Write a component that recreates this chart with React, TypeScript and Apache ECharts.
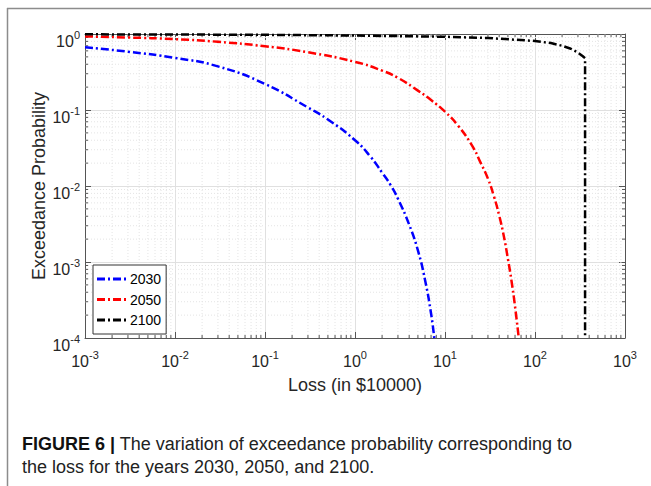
import React, { useEffect, useRef } from "react";
import * as echarts from "echarts";

const seriesNames = ["2030", "2050", "2100"];
const seriesColors = ["#0000ff", "#ff0000", "#000000"];

const loss2030 = [0.001, 0.003, 0.01, 0.03, 0.1, 0.3, 0.5, 1, 1.5, 2, 2.5, 3, 4, 5, 6, 7, 7.6];
const prob2030 = [0.67, 0.585, 0.485, 0.375, 0.22, 0.108, 0.075, 0.04, 0.024, 0.015, 0.0102, 0.0068, 0.0031, 0.00142, 0.00058, 0.00021, 0.0001];

const loss2050 = [0.001, 0.003, 0.01, 0.03, 0.1, 0.3, 1, 2, 3, 5, 7, 10, 14, 20, 25, 30, 35, 40, 45, 50, 55, 60, 66];
const prob2050 = [0.93, 0.9, 0.855, 0.79, 0.69, 0.575, 0.43, 0.33, 0.265, 0.18, 0.135, 0.095, 0.062, 0.034, 0.02, 0.0125, 0.0073, 0.0041, 0.0022, 0.0011, 0.00055, 0.00026, 0.0001];

const loss2100 = [0.001, 0.01, 0.1, 1, 10, 30, 100, 150, 200, 250, 300, 340, 360, 360];
const prob2100 = [0.99, 0.985, 0.975, 0.955, 0.92, 0.885, 0.81, 0.76, 0.7, 0.64, 0.57, 0.51, 0.48, 0.0001];

const xMin = 0.001;
const xMax = 1000;
const yMin = 0.0001;
const yMax = 1;

const FONT = "'Liberation Sans', Arial, sans-serif";

function minorValues(lo: number, hi: number): number[] {
  const out: number[] = [];
  for (let e = Math.round(Math.log10(lo)); e < Math.round(Math.log10(hi)); e++) {
    for (let m = 2; m <= 9; m++) out.push(m * Math.pow(10, e));
  }
  return out;
}

const superLabel = (v: number) => {
  const e = Math.round(Math.log10(v));
  return "{b|10}{s|" + e + "}";
};

const richSup = {
  b: { fontSize: 16, fontFamily: FONT, color: "#262626", verticalAlign: "bottom", lineHeight: 20 },
  s: { fontSize: 11, fontFamily: FONT, color: "#262626", verticalAlign: "top", lineHeight: 20 },
};

const dashDotIcon = "path://M0 0h8v3h-8z M11 0h2v3h-2z M16 0h8v3h-8z M27 0h2v3h-2z";

export default function App() {
  const ref = useRef<HTMLDivElement>(null);
  useEffect(() => {
    document.body.style.margin = "0";
    if (!ref.current) return;
    const chart = echarts.init(ref.current, undefined, { renderer: "svg" });
    const pairs = (xs: number[], ys: number[]) => xs.map((x, i) => [x, ys[i]]);
    const xMinor = minorValues(xMin, xMax);
    const yMinor = minorValues(yMin, yMax);
    const gridColor = "#e0e0e0";
    const minorColor = "#e4e4e4";
    const axisColor = "#555555";

    const lineSeries = [
      pairs(loss2030, prob2030),
      pairs(loss2050, prob2050),
      pairs(loss2100, prob2100),
    ].map((d, i) => ({
      name: seriesNames[i],
      type: "line",
      data: d,
      showSymbol: false,
      symbol: "none",
      smooth: i === 2 ? false : 0.5,
      z: 5,
      color: seriesColors[i],
      lineStyle: { color: seriesColors[i], width: 2.5, type: [8, 3, 2, 3], cap: "butt", join: "round" },
      xAxisIndex: 0,
      yAxisIndex: 0,
    }));

    const baseAxis = {
      type: "log",
      logBase: 10,
      axisLine: { show: true, onZero: false, lineStyle: { color: axisColor, width: 1 } },
      axisTick: { show: true, inside: true, length: 6, lineStyle: { color: axisColor } },
    };

    const option: any = {
      animation: false,
      backgroundColor: "#ffffff",
      grid: { left: 85, top: 34, width: 540, height: 304, containLabel: false },
      xAxis: [
        {
          ...baseAxis,
          min: xMin,
          max: xMax,
          position: "bottom",
          axisLabel: { formatter: superLabel, rich: richSup, fontSize: 16, fontFamily: FONT, margin: 11 },
          splitLine: { show: true, lineStyle: { color: gridColor, width: 1 } },
          name: "Loss (in $10000)",
          nameLocation: "middle",
          nameGap: 38,
          nameMoveOverlap: false,
          nameTextStyle: { fontFamily: FONT, fontSize: 18, color: "#262626" },
        },
        {
          ...baseAxis,
          min: xMin,
          max: xMax,
          position: "top",
          axisLabel: { show: false },
          splitLine: { show: false },
        },
      ],
      yAxis: [
        {
          ...baseAxis,
          min: yMin,
          max: yMax,
          position: "left",
          axisLabel: { formatter: superLabel, rich: richSup, fontSize: 16, fontFamily: FONT, margin: 5, padding: [10, 0, 0, 0] },
          splitLine: { show: true, lineStyle: { color: gridColor, width: 1 } },
          name: "Exceedance Probability",
          nameLocation: "middle",
          nameGap: 37,
          nameMoveOverlap: false,
          nameTextStyle: { fontFamily: FONT, fontSize: 18, color: "#262626" },
        },
        {
          ...baseAxis,
          min: yMin,
          max: yMax,
          position: "right",
          axisLabel: { show: false },
          splitLine: { show: false },
        },
      ],
      legend: {
        data: seriesNames.map((n) => ({ name: n, icon: dashDotIcon })),
        orient: "vertical",
        left: 93,
        top: 265,
        itemWidth: 29,
        itemHeight: 14,
        itemGap: 6.5,
        padding: [7, 5, 7, 4],
        backgroundColor: "#ffffff",
        borderColor: "#333333",
        borderWidth: 1,
        borderRadius: 0,
        textStyle: { fontFamily: FONT, fontSize: 14, color: "#000000", padding: [0, 0, 0, -1] },
      },
      graphic: [
        { type: "line", shape: { x1: 7.5, y1: 8, x2: 7.5, y2: 486 }, style: { stroke: "#8c8c8c", lineWidth: 1.5 } },
        { type: "line", shape: { x1: 7, y1: 8.5, x2: 651, y2: 8.5 }, style: { stroke: "#8c8c8c", lineWidth: 1.5 } },
        {
          type: "text",
          left: 22,
          top: 432,
          style: {
            text: "{b|FIGURE 6 |} The variation of exceedance probability corresponding to\nthe loss for the years 2030, 2050, and 2100.",
            font: "18px " + FONT,
            fill: "#222222",
            lineHeight: 23,
            rich: {
              b: { fontWeight: "bold", fontSize: 18, fontFamily: FONT, fill: "#111111", lineHeight: 23 },
            },
          },
        },
      ],
      series: [
        {
          type: "custom",
          name: "xminor",
          xAxisIndex: 0,
          yAxisIndex: 0,
          z: 1,
          silent: true,
          data: xMinor.map((v) => [v, 1]),
          encode: { x: 0, y: 1 },
          renderItem: (params: any, api: any) => {
            const v = api.value(0);
            const b = api.coord([v, yMin]);
            const t = api.coord([v, yMax]);
            return {
              type: "group",
              children: [
                { type: "line", shape: { x1: b[0], y1: b[1], x2: t[0], y2: t[1] }, style: { stroke: minorColor, lineWidth: 1, lineDash: [1, 2] } },
                { type: "line", shape: { x1: b[0], y1: b[1], x2: b[0], y2: b[1] - 3 }, style: { stroke: axisColor, lineWidth: 1 } },
                { type: "line", shape: { x1: t[0], y1: t[1], x2: t[0], y2: t[1] + 3 }, style: { stroke: axisColor, lineWidth: 1 } },
              ],
            };
          },
        },
        {
          type: "custom",
          name: "yminor",
          xAxisIndex: 0,
          yAxisIndex: 0,
          z: 1,
          silent: true,
          data: yMinor.map((v) => [1, v]),
          encode: { x: 0, y: 1 },
          renderItem: (params: any, api: any) => {
            const v = api.value(1);
            const l = api.coord([xMin, v]);
            const r = api.coord([xMax, v]);
            return {
              type: "group",
              children: [
                { type: "line", shape: { x1: l[0], y1: l[1], x2: r[0], y2: r[1] }, style: { stroke: minorColor, lineWidth: 1, lineDash: [1, 2] } },
                { type: "line", shape: { x1: l[0], y1: l[1], x2: l[0] + 3, y2: l[1] }, style: { stroke: axisColor, lineWidth: 1 } },
                { type: "line", shape: { x1: r[0], y1: r[1], x2: r[0] - 3, y2: r[1] }, style: { stroke: axisColor, lineWidth: 1 } },
              ],
            };
          },
        },
        ...lineSeries,
      ],
    };
    chart.setOption(option);
    return () => chart.dispose();
  }, []);
  return <div ref={ref} style={{ width: 651, height: 486 }} />;
}
